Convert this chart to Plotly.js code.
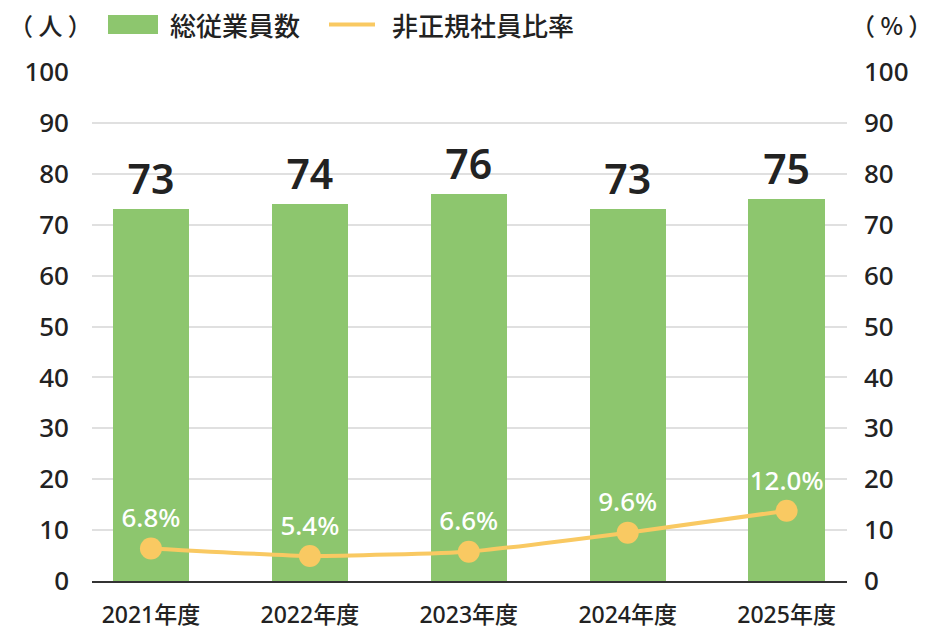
<!DOCTYPE html>
<html>
<head>
<meta charset="utf-8">
<script src="https://cdn.plot.ly/plotly-3.0.1.min.js"></script>
<style>
  html, body { margin: 0; padding: 0; background: #fff; }
  #chart { width: 940px; height: 640px; }
</style>
</head>
<body>
<div id="chart"></div>
<script>
// data
var years = ['2021年度', '2022年度', '2023年度', '2024年度', '2025年度'];
var employees = [73, 74, 76, 73, 75];
var ratePlotted = [6.4, 4.9, 5.75, 9.5, 13.8];
var rateLabels = ['6.8%', '5.4%', '6.6%', '9.6%', '12.0%'];

var GREEN = '#8dc66e';
var YELLOW = '#f9c962';
var INK = '#222222';
var FONT = '"Noto Sans", "Noto Sans CJK JP", sans-serif';
var CJK = '"Noto Sans CJK JP", "Noto Sans", sans-serif';

// plot box in pixels, used to place the hand drawn legend
var PL = 92, PW = 755, PT = 72, PH = 509;
function px(x) { return (x - PL) / PW; }
function py(y) { return 1 + (PT - y) / PH; }

var Employees = {
    x: years,
    y: employees,
    type: 'bar',
    width: 0.48,
    marker: { color: GREEN },
    text: employees.map(String),
    textposition: 'outside',
    outsidetextfont: { family: FONT, size: 41, color: INK, weight: 600 },
    cliponaxis: false,
    hoverinfo: 'skip',
    showlegend: false
};

var Rate = {
    x: years,
    y: ratePlotted,
    yaxis: 'y2',
    type: 'scatter',
    mode: 'lines+markers+text',
    line: { color: YELLOW, width: 4, shape: 'spline', smoothing: 0.4 },
    marker: { color: YELLOW, size: 22 },
    text: rateLabels,
    textposition: 'top center',
    textfont: { family: FONT, size: 26, color: '#ffffff', weight: 500 },
    cliponaxis: false,
    hoverinfo: 'skip',
    showlegend: false
};

var tickFont = { family: FONT, size: 26, color: INK, weight: 500 };

var layout = {
    width: 940,
    height: 640,
    margin: { l: PL, r: 940 - PL - PW, t: PT, b: 640 - PT - PH },
    paper_bgcolor: '#fff',
    plot_bgcolor: '#fff',
    font: { family: FONT, color: INK },
    bargap: 0,
    xaxis: {
        type: 'category',
        range: [-0.371, 4.38],
        showgrid: false,
        showline: true,
        linecolor: '#333',
        linewidth: 2,
        ticks: '',
        ticklabelstandoff: 12,
        tickfont: { family: FONT, size: 23, color: INK, weight: 500 },
        fixedrange: true
    },
    yaxis: {
        range: [0, 100],
        dtick: 10,
        gridcolor: '#e0e0e0',
        gridwidth: 2,
        zeroline: false,
        ticks: '',
        ticklabelstandoff: 22,
        tickfont: tickFont,
        fixedrange: true
    },
    yaxis2: {
        range: [0, 100],
        dtick: 10,
        overlaying: 'y',
        side: 'right',
        showgrid: false,
        zeroline: false,
        ticks: '',
        ticklabelstandoff: 16,
        tickfont: tickFont,
        fixedrange: true
    },
    // legend drawn by hand so the swatches keep their size
    shapes: [
        { type: 'rect', xref: 'paper', yref: 'paper', x0: px(108), x1: px(158),
          y0: py(34), y1: py(15), fillcolor: GREEN, line: { width: 0 } },
        { type: 'line', xref: 'paper', yref: 'paper', x0: px(329), x1: px(375),
          y0: py(24.5), y1: py(24.5), line: { color: YELLOW, width: 4 } }
    ],
    annotations: [
        { text: '（ 人 ）', xref: 'paper', yref: 'paper', x: px(50), y: py(24),
          xanchor: 'center', yanchor: 'middle', showarrow: false,
          font: { family: CJK, size: 24, color: INK, weight: 500 } },
        { text: '総従業員数', xref: 'paper', yref: 'paper', x: px(168), y: py(24),
          xanchor: 'left', yanchor: 'middle', showarrow: false,
          font: { family: CJK, size: 26, color: INK, weight: 500 } },
        { text: '非正規社員比率', xref: 'paper', yref: 'paper', x: px(390), y: py(24),
          xanchor: 'left', yanchor: 'middle', showarrow: false,
          font: { family: CJK, size: 26, color: INK, weight: 500 } },
        { text: '（ % ）', xref: 'paper', yref: 'paper', x: px(891), y: py(24),
          xanchor: 'center', yanchor: 'middle', showarrow: false,
          font: { family: CJK, size: 24, color: INK, weight: 500 } }
    ]
};

Plotly.newPlot('chart', [Employees, Rate], layout, { displayModeBar: false, staticPlot: true });
</script>
</body>
</html>
